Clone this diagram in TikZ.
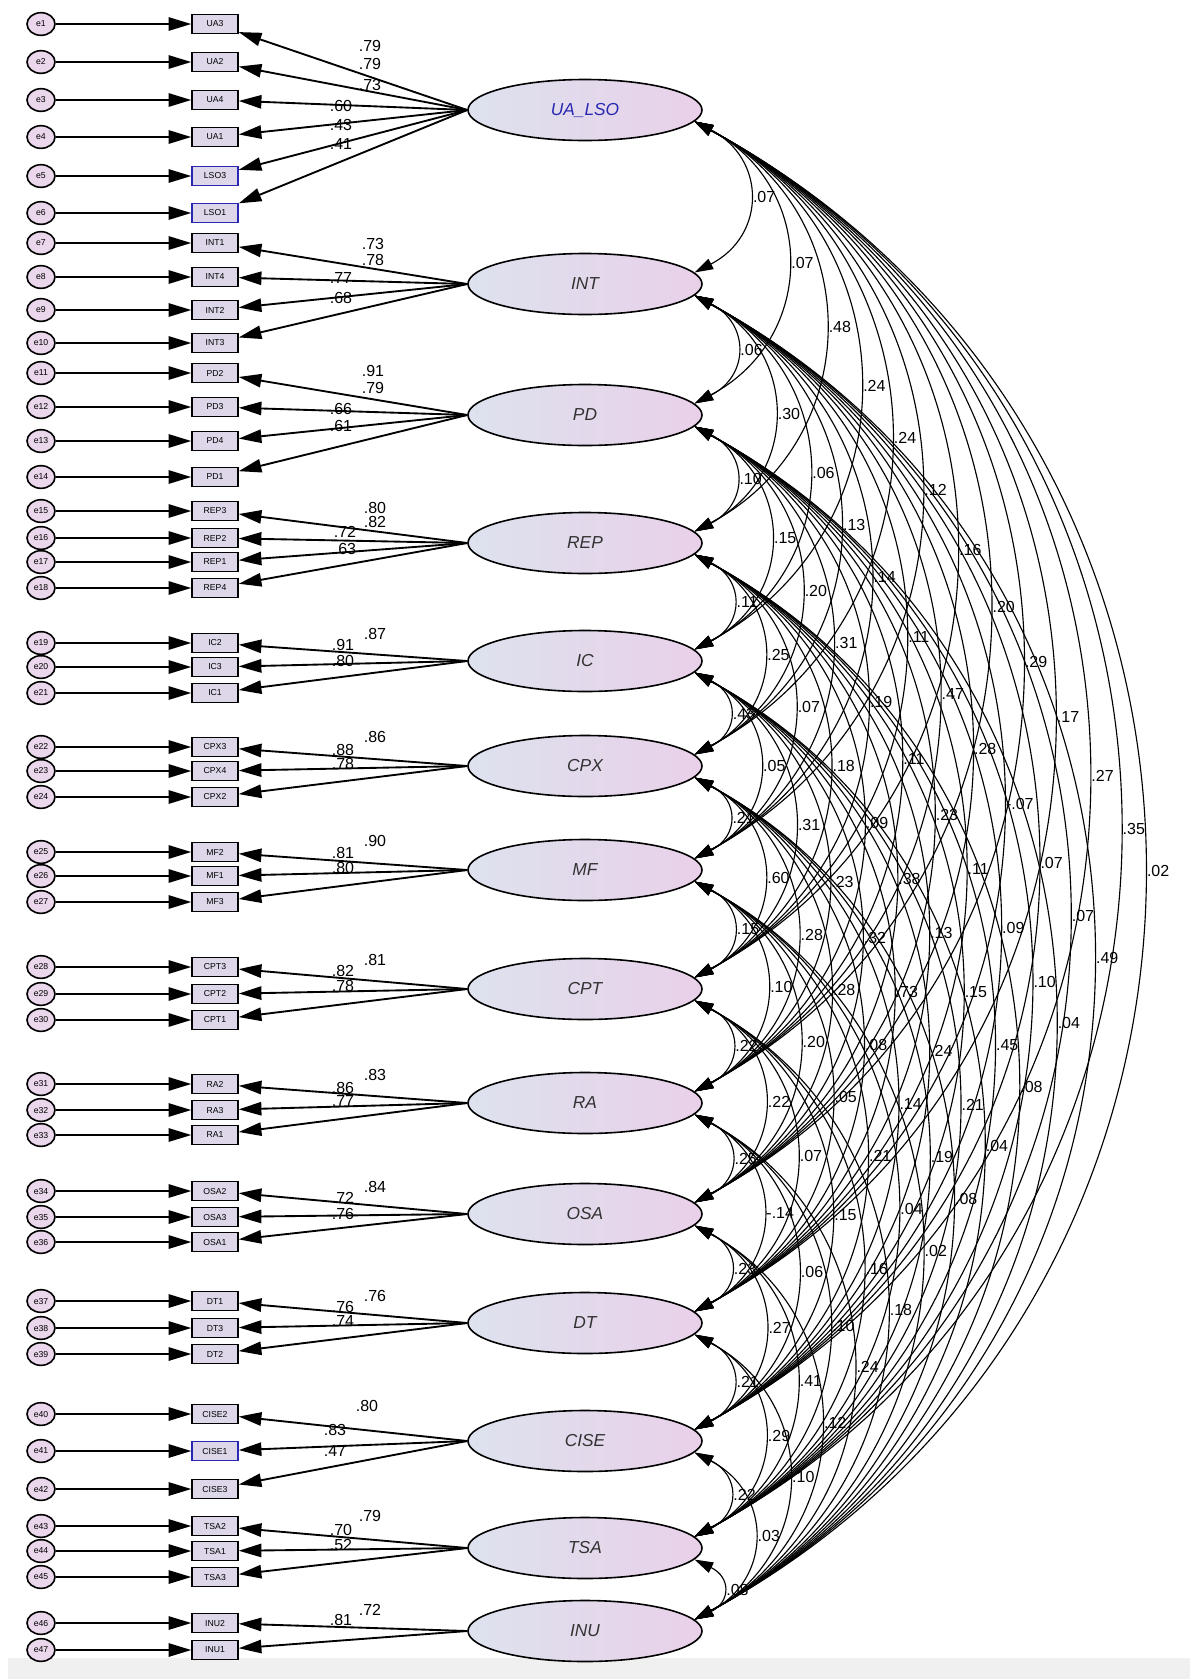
\documentclass[tikz,border=0pt]{standalone}
\usepackage{fontspec}
\setmainfont{Liberation Sans}
\usetikzlibrary{arrows.meta,calc,shapes.geometric}

\definecolor{latleft}{RGB}{221,226,238}
\definecolor{latright}{RGB}{233,208,233}
\definecolor{obsfill}{RGB}{221,215,233}
\definecolor{errfill}{RGB}{235,215,235}
\definecolor{selblue}{RGB}{40,40,178}
\definecolor{lattext}{RGB}{50,50,50}
\definecolor{bandgray}{RGB}{240,240,240}

\tikzset{
  latent/.style={ellipse, draw, line width=1.2pt, left color=latleft, right color=latright,
    minimum width=175.5pt, minimum height=45.75pt, inner sep=0pt,
    font=\fontsize{13}{15}\selectfont\itshape, text=lattext},
  observed/.style={rectangle, draw, line width=1.1pt, fill=obsfill, minimum width=34.5pt,
    minimum height=14pt, inner sep=0pt, font=\fontsize{6.5}{7}\selectfont},
  errnode/.style={ellipse, draw, line width=1.2pt, fill=errfill, minimum width=21pt,
    minimum height=17pt, inner sep=0pt, font=\fontsize{6.5}{7}\selectfont},
  regline/.style={line width=1.4pt, -{Triangle[length=17pt,width=10pt]}},
  covline/.style={line width=0.85pt, {Triangle[length=14pt,width=8.5pt]}-{Triangle[length=14pt,width=8.5pt]}},
  loadtxt/.style={inner sep=0pt, font=\fontsize{12}{14}\selectfont},
  covtxt/.style={anchor=west, inner sep=1pt, xshift=2pt, font=\fontsize{12}{14}\selectfont}
}

% heights of the latent variables
\def\latY{{110,284,415,543,661,766,870,989,1103,1214,1323,1441,1548,1631}}

\begin{document}
\begin{tikzpicture}[x=0.75pt,y=0.75pt,yscale=-1,xscale=1]
\useasboundingbox (0,0) rectangle (1190,1679);
\fill [white] (0,0) rectangle (1190,1679);
\fill [bandgray] (8,1658) rectangle (1190,1679);

% Latent variables
\draw (585,110) node [latent, text=selblue] (L1) {UA\_LSO};
\foreach \n/\t in {2/INT,3/PD,4/REP,5/IC,6/CPX,7/MF,8/CPT,9/RA,10/OSA,11/DT,12/CISE,13/TSA,14/INU}{
  \pgfmathsetmacro\yy{\latY[\n-1]}
  \draw (585,\yy) node [latent] (L\n) {\t};
}

% Covariances
\foreach \i/\j/\t in {
  1/2/.07, 1/3/.07, 1/4/.48, 1/5/.24, 1/6/.24, 1/7/.12, 1/8/.16, 1/9/.20, 1/10/.29, 1/11/.17, 1/12/.27, 1/13/.35, 1/14/.02,
  2/3/.06, 2/4/.30, 2/5/.06, 2/6/.13, 2/7/.14, 2/8/.11, 2/9/.47, 2/10/.28, 2/11/-.07, 2/12/.07, 2/13/.07, 2/14/.49,
  3/4/.10, 3/5/.15, 3/6/.20, 3/7/.31, 3/8/.19, 3/9/.11, 3/10/.23, 3/11/.11, 3/12/.09, 3/13/.10, 3/14/.04,
  4/5/.11, 4/6/.25, 4/7/.07, 4/8/.18, 4/9/.09, 4/10/.38, 4/11/.13, 4/12/.15, 4/13/.45, 4/14/.08,
  5/6/.43, 5/7/.05, 5/8/.31, 5/9/.23, 5/10/.32, 5/11/.73, 5/12/.24, 5/13/.21, 5/14/.04,
  6/7/.21, 6/8/.60, 6/9/.28, 6/10/.28, 6/11/.08, 6/12/.14, 6/13/.19, 6/14/.08,
  7/8/.15, 7/9/.10, 7/10/.20, 7/11/.05, 7/12/.21, 7/13/.04, 7/14/.02,
  8/9/.22, 8/10/.22, 8/11/.07, 8/12/.15, 8/13/.16, 8/14/.18,
  9/10/.25, 9/11/-.14, 9/12/.06, 9/13/.10, 9/14/.24,
  10/11/.23, 10/12/.27, 10/13/.41, 10/14/.12,
  11/12/.21, 11/13/.29, 11/14/.10,
  12/13/.22, 12/14/.03,
  13/14/.08}{
  \pgfmathsetmacro\d{\latY[\j-1]-\latY[\i-1]}
  \draw [covline] (L\i.-6) .. controls ($(L\i.-6)+(0.39*\d+4,0.213*\d)$) and ($(L\j.6)+(0.39*\d+4,-0.213*\d)$) .. (L\j.6)
    node [covtxt, midway] (c\i-\j) {\t};
}

% Indicators and their errors
\foreach \k/\y/\t/\l/\c in {
  1/24/UA3/1/black, 2/62/UA2/1/black, 3/100/UA4/1/black, 4/137/UA1/1/black, 5/176/LSO3/1/selblue, 6/213/LSO1/1/selblue,
  7/243/INT1/2/black, 8/277/INT4/2/black, 9/310/INT2/2/black, 10/343/INT3/2/black,
  11/373/PD2/3/black, 12/407/PD3/3/black, 13/441/PD4/3/black, 14/477/PD1/3/black,
  15/511/REP3/4/black, 16/538/REP2/4/black, 17/562/REP1/4/black, 18/588/REP4/4/black,
  19/643/IC2/5/black, 20/667/IC3/5/black, 21/693/IC1/5/black,
  22/747/CPX3/6/black, 23/771/CPX4/6/black, 24/797/CPX2/6/black,
  25/852/MF2/7/black, 26/876/MF1/7/black, 27/902/MF3/7/black,
  28/967/CPT3/8/black, 29/994/CPT2/8/black, 30/1020/CPT1/8/black,
  31/1084/RA2/9/black, 32/1110/RA3/9/black, 33/1135/RA1/9/black,
  34/1191/OSA2/10/black, 35/1217/OSA3/10/black, 36/1242/OSA1/10/black,
  37/1301/DT1/11/black, 38/1328/DT3/11/black, 39/1354/DT2/11/black,
  40/1414/CISE2/12/black, 41/1451/CISE1/12/selblue, 42/1489/CISE3/12/black,
  43/1526/TSA2/13/black, 44/1551/TSA1/13/black, 45/1577/TSA3/13/black,
  46/1623/INU2/14/black, 47/1650/INU1/14/black}{
  \draw (215,\y) node [observed, draw=\c] (V\k) {\t};
  \draw (41,\y) node [errnode] (E\k) {e\k};
  \draw [regline] (E\k) -- (V\k);
  \draw [regline] (L\l.west) -- (V\k);
}

% Text Node: loadings
\foreach \x/\y/\t [count=\w] in {
  370/46/.79, 370/64/.79, 370/85/.73, 341/106/.60, 341/125/.43, 341/144/.41,
  373/244/.73, 373/260/.78, 341/278/.77, 341/298/.68,
  373/371/.91, 373/388/.79, 341/409/.66, 341/426/.61,
  375/508/.80, 375/522/.82, 345/532/.72, 345/549/.63,
  375/634/.87, 343/645/.91, 343/661/.80,
  375/737/.86, 343/750/.88, 343/764/.78,
  375/841/.90, 343/853/.81, 343/868/.80,
  375/960/.81, 343/971/.82, 343/986/.78,
  375/1075/.83, 343/1088/.86, 343/1101/.77,
  375/1187/.84, 343/1198/.72, 343/1214/.76,
  375/1296/.76, 343/1307/.76, 343/1321/.74,
  367/1406/.80, 335/1430/.83, 335/1451/.47,
  370/1516/.79, 341/1530/.70, 341/1545/.52,
  370/1610/.72, 341/1620/.81}{
  \draw (\x,\y) node [loadtxt] (w\w) {\t};
}
\end{tikzpicture}
\end{document}
